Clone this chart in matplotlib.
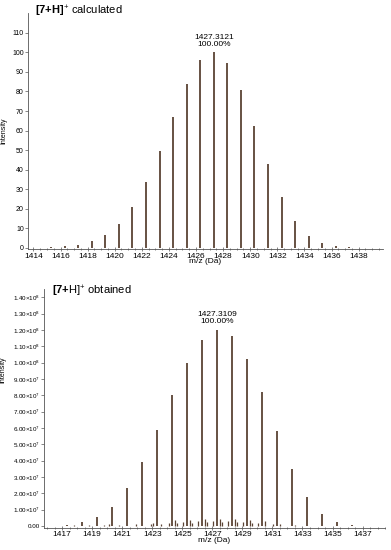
import numpy as np
import matplotlib.pyplot as plt
import matplotlib.ticker as mticker

plt.rcParams['font.family'] = ['Liberation Sans', 'DejaVu Sans']
plt.rcParams['mathtext.fontset'] = 'custom'
plt.rcParams['mathtext.rm'] = 'Liberation Sans'
plt.rcParams['mathtext.bf'] = 'Liberation Sans:bold'

# calculated isotope pattern (relative intensity, %)
calc_mz = [1414.31, 1415.31, 1416.31, 1417.31, 1418.31, 1419.31, 1420.31, 1421.31,
           1422.31, 1423.31, 1424.31, 1425.31, 1426.31, 1427.31, 1428.31, 1429.31,
           1430.31, 1431.31, 1432.31, 1433.31, 1434.31, 1435.31, 1436.31, 1437.31]
calc_int = [0.1, 0.3, 0.8, 1.7, 3.4, 6.6, 12.2, 20.9,
            33.5, 49.6, 67.2, 84.0, 95.9, 100.0, 94.7, 81.0,
            62.2, 42.7, 26.2, 13.9, 6.3, 2.7, 1.0, 0.3]

# obtained spectrum (intensity)
obt_mz = [1416.31, 1417.31, 1418.31, 1419.31, 1420.31, 1421.31, 1422.31, 1423.31,
          1424.31, 1425.31, 1426.31, 1427.31, 1428.31, 1429.31, 1430.31, 1431.31,
          1432.31, 1433.31, 1434.31, 1435.31, 1436.31, 1437.31]
obt_int = [0.02e7, 0.08e7, 0.23e7, 0.53e7, 1.18e7, 2.30e7, 3.90e7, 5.87e7,
           8.01e7, 9.97e7, 11.38e7, 12.0e7, 11.62e7, 10.2e7, 8.21e7, 5.81e7,
           3.47e7, 1.75e7, 0.72e7, 0.25e7, 0.08e7, 0.03e7]

# small side signals near the baseline
sat_mz = [1416.6, 1417.0, 1417.8, 1418.8, 1419.8, 1420.1, 1420.8, 1421.9, 1422.9,
          1423.05, 1423.6, 1424.1, 1424.5, 1424.65, 1425.05, 1425.5, 1425.65,
          1426.05, 1426.5, 1426.65, 1427.05, 1427.5, 1427.65, 1428.05, 1428.5,
          1428.65, 1429.05, 1429.5, 1429.65, 1430.05, 1430.5, 1431.05, 1431.5, 1432.5]
sat_int = [0.03e7, 0.03e7, 0.05e7, 0.05e7, 0.08e7, 0.1e7, 0.08e7, 0.1e7, 0.12e7,
           0.2e7, 0.15e7, 0.2e7, 0.35e7, 0.2e7, 0.25e7, 0.35e7, 0.2e7,
           0.3e7, 0.45e7, 0.25e7, 0.3e7, 0.45e7, 0.25e7, 0.3e7, 0.45e7,
           0.25e7, 0.25e7, 0.35e7, 0.2e7, 0.2e7, 0.3e7, 0.15e7, 0.1e7, 0.05e7]

bar_col = '#5b4334'

fig = plt.figure(figsize=(3.91, 5.5), dpi=100)


def style_axis(ax):
    for s in ['top', 'right']:
        ax.spines[s].set_visible(False)
    for s in ['left', 'bottom']:
        ax.spines[s].set_color('#555555')
        ax.spines[s].set_linewidth(0.6)
    ax.tick_params(axis='both', which='both', color='#555555', width=0.5)
    ax.tick_params(axis='x', which='major', length=3, direction='inout', labelsize=6, pad=1)
    ax.tick_params(axis='x', which='minor', length=1.5, direction='inout')
    ax.tick_params(axis='y', which='major', length=2, labelsize=5, pad=1)
    ax.set_xlabel('m/z (Da)', fontsize=6, labelpad=-1)


# top panel: calculated
ax1 = fig.add_axes([0.0716, 0.547, 0.908, 0.429])
ax1.vlines(calc_mz, 0, calc_int, color=bar_col, lw=1.3)
ax1.set_xlim(1413.6, 1439.8)
ax1.set_ylim(-0.6, 120)
ax1.set_xticks(np.arange(1414, 1439, 2))
ax1.xaxis.set_minor_locator(mticker.MultipleLocator(0.5))
ax1.set_yticks(np.arange(0, 111, 10))
style_axis(ax1)
ax1.set_ylabel('Intensity', fontsize=5)
ax1.yaxis.set_label_coords(-0.058, 0.5)
ax1.text(1427.3121, 102, '1427.3121\n100.00%', ha='center', va='bottom',
         fontsize=6, linespacing=1.0)
fig.text(35 / 391, 1 - 11 / 550, r'$\mathbf{[7{+}H]}^{+}$ calculated',
         fontsize=8, va='center', ha='left')

# bottom panel: obtained
ax2 = fig.add_axes([0.1125, 0.0405, 0.8725, 0.434])
ax2.vlines(sat_mz, 0, sat_int, color=bar_col, lw=0.9)
ax2.vlines(obt_mz, 0, obt_int, color=bar_col, lw=1.3)
ax2.set_xlim(1415.8, 1438.5)
ax2.set_ylim(-0.1e7, 14.5e7)
ax2.set_xticks(np.arange(1417, 1438, 2))
ax2.xaxis.set_minor_locator(mticker.MultipleLocator(0.5))
yt = np.arange(0, 14.1e7, 1e7)
ax2.set_yticks(yt)


def sci_fmt(v, pos):
    if v == 0:
        return '0.00'
    e = int(np.floor(np.log10(v) + 1e-9))
    return r'$%.2f{\times}10^{%d}$' % (v / 10 ** e, e)


ax2.yaxis.set_major_formatter(mticker.FuncFormatter(sci_fmt))
style_axis(ax2)
ax2.tick_params(axis='y', which='major', labelsize=4.5)
ax2.set_ylabel('Intensity', fontsize=5)
ax2.yaxis.set_label_coords(-0.11, 0.66)
ax2.text(1427.3109, 12.3e7, '1427.3109\n100.00%', ha='center', va='bottom',
         fontsize=6, linespacing=1.0)
fig.text(52 / 391, 1 - 291 / 550, r'$\mathbf{[7{+}}$H]$^{+}$ obtained',
         fontsize=8, va='center', ha='left')

fig.savefig('out.png', dpi=100)
